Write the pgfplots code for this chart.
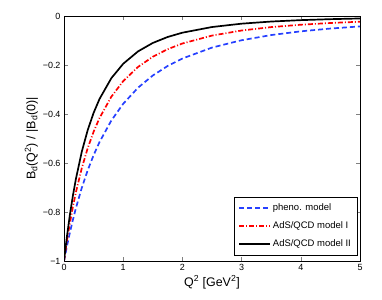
\documentclass[border=0pt]{standalone}
\usepackage{fontspec}
\setmainfont{Liberation Sans}
\usepackage{pgfplots}
\pgfplotsset{compat=1.18}
\definecolor{mblue}{rgb}{0.15,0.25,1}
\begin{document}
\begin{tikzpicture}
\useasboundingbox (-64bp,-39bp) rectangle (318bp,261bp);
\begin{axis}[
  at={(0,0)}, anchor=south west,
  scale only axis, width=296bp, height=245bp,
  xmin=0, xmax=5, ymin=-1, ymax=0,
  xtick={0,1,2,3,4,5},
  ytick={-1,-0.8,-0.6,-0.4,-0.2,0},
  yticklabels={−1,−0.8,−0.6,−0.4,−0.2,0},
  tick align=inside, tick pos=both,
  major tick length=4bp,
  tick label style={font=\fontsize{9}{10}\selectfont},
  /pgf/number format/assume math mode=true,
  xlabel={Q\textsuperscript{2} [GeV\textsuperscript{2}]},
  ylabel={B\textsubscript{d}(Q\textsuperscript{2}) / |B\textsubscript{d}(0)|},
  label style={font=\fontsize{12.5}{14}\selectfont},
  xlabel style={yshift=2bp},
  ylabel style={yshift=-2bp},
  legend style={at={(0.99,0.024)}, anchor=south east, font=\fontsize{9.5}{11}\selectfont,
    draw=black, line width=0.5pt, row sep=5.5bp, inner xsep=4bp, inner ysep=5bp},
  legend cell align=left,
  legend image code/.code={\draw[#1] (0bp,0bp) -- (31bp,0bp);},
  every axis plot/.append style={line width=1.7pt},
]
\addplot[mblue, dash pattern=on 5bp off 3bp] coordinates {
(0,-1) (0.05,-0.9393) (0.1,-0.8836) (0.15,-0.8324) (0.2,-0.7853) (0.3,-0.7016) (0.4,-0.6299) (0.5,-0.5681) (0.6,-0.5144) (0.8,-0.4265) (1.0,-0.3583) (1.25,-0.2928) (1.5,-0.2429) (1.75,-0.2041) (2.0,-0.1735) (2.5,-0.1289) (3.0,-0.0989) (3.5,-0.0778) (4.0,-0.0626) (4.5,-0.0512) (5.0,-0.0425)};
\addlegendentry{pheno. model}
\addplot[red, dash pattern=on 5bp off 2bp on 1bp off 2bp] coordinates {
(0,-1) (0.05,-0.9177) (0.1,-0.8445) (0.15,-0.7793) (0.2,-0.7209) (0.3,-0.6212) (0.4,-0.5398) (0.5,-0.4725) (0.6,-0.4165) (0.8,-0.3293) (1.0,-0.2657) (1.25,-0.2080) (1.5,-0.1664) (1.75,-0.1356) (2.0,-0.1122) (2.5,-0.0799) (3.0,-0.0592) (3.5,-0.0453) (4.0,-0.0356) (4.5,-0.0286) (5.0,-0.0233)};
\addlegendentry{AdS/QCD model I}
\addplot[black, solid] coordinates {
(0,-1) (0.05,-0.8988) (0.1,-0.8107) (0.15,-0.7338) (0.2,-0.6663) (0.3,-0.5543) (0.4,-0.4660) (0.5,-0.3955) (0.6,-0.3386) (0.8,-0.2537) (1.0,-0.1950) (1.25,-0.1445) (1.5,-0.1100) (1.75,-0.0857) (2.0,-0.0681) (2.5,-0.0450) (3.0,-0.0313) (3.5,-0.0226) (4.0,-0.0169) (4.5,-0.0129) (5.0,-0.0101)};
\addlegendentry{AdS/QCD model II}
\end{axis}
\end{tikzpicture}
\end{document}
